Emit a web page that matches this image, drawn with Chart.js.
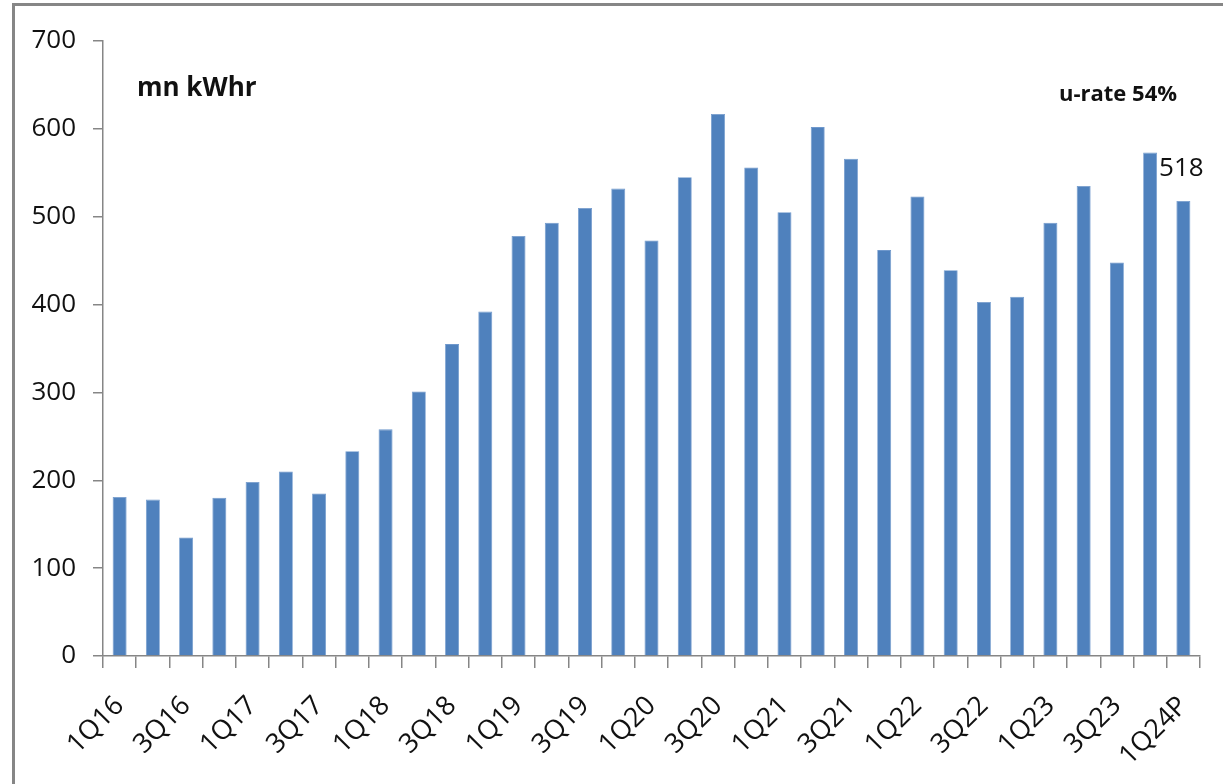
<!DOCTYPE html>
<html>
<head>
<meta charset="utf-8">
<script src="https://cdn.jsdelivr.net/npm/chart.js@4/dist/chart.umd.min.js"></script>
<style>
  html, body { margin: 0; padding: 0; background: #fff; }
  #wrap { width: 1223px; height: 784px; position: relative; }
</style>
</head>
<body>
<div id="wrap"><canvas id="c"></canvas></div>
<script>
const quarters = [
  "1Q16", "2Q16", "3Q16", "4Q16",
  "1Q17", "2Q17", "3Q17", "4Q17",
  "1Q18", "2Q18", "3Q18", "4Q18",
  "1Q19", "2Q19", "3Q19", "4Q19",
  "1Q20", "2Q20", "3Q20", "4Q20",
  "1Q21", "2Q21", "3Q21", "4Q21",
  "1Q22", "2Q22", "3Q22", "4Q22",
  "1Q23", "2Q23", "3Q23", "4Q23",
  "1Q24P"
]
const generation = [
  181, 178, 135, 180,
  198, 210, 185, 233,
  258, 301, 355, 392,
  478, 493, 510, 532,
  473, 545, 617, 556,
  505, 602, 566, 462,
  523, 439, 403, 409,
  493, 535, 448, 573,
  518
]
const yTicks = [0, 100, 200, 300, 400, 500, 600, 700]
const unitLabel = "mn kWhr"
const rateLabel = "u-rate 54%"

const FONT = "'Open Sans', sans-serif"
const AXIS = "#868686"

// frame, notes and the value label on the last bar
const notes = {
  id: "notes",
  afterDraw(chart) {
    const { ctx } = chart
    ctx.save()
    ctx.strokeStyle = AXIS
    ctx.lineWidth = 3
    ctx.beginPath()
    ctx.moveTo(13.5, 784)
    ctx.lineTo(13.5, 4.5)
    ctx.lineTo(1223, 4.5)
    ctx.stroke()

    ctx.fillStyle = "#111"
    ctx.textBaseline = "alphabetic"
    ctx.textAlign = "left"
    ctx.font = "bold 26px " + FONT
    ctx.fillText(unitLabel, 137, 96)
    ctx.font = "bold 22px " + FONT
    ctx.fillText(rateLabel, 1059, 101)

    const last = generation.length - 1
    const bar = chart.getDatasetMeta(0).data[last]
    ctx.font = "26px " + FONT
    ctx.textAlign = "center"
    ctx.textBaseline = "bottom"
    ctx.fillText(String(generation[last]), bar.x - 2, bar.y - 19)
    ctx.restore()
  }
}

new Chart(document.getElementById("c"), {
  type: "bar",
  data: {
    labels: quarters,
    datasets: [{
      data: generation,
      backgroundColor: "#4F81BD",
      borderColor: "#6f98cc",
      borderWidth: 0.8,
      categoryPercentage: 1,
      barPercentage: 0.42
    }]
  },
  options: {
    responsive: true, maintainAspectRatio: false, animation: false,
    layout: { padding: { top: 41, right: 23, bottom: 0, left: 0 } },
    plugins: { legend: { display: false }, tooltip: { enabled: false } },
    scales: {
      x: {
        grid: { display: true, drawOnChartArea: false, tickLength: 12, color: AXIS, lineWidth: 1.5, offset: true },
        border: { display: true, color: AXIS, width: 1.5 },
        ticks: {
          autoSkip: false, minRotation: 45, maxRotation: 45, padding: 22,
          color: "#111", font: { family: FONT, size: 27 },
          callback: (v, i) => i % 2 === 0 ? quarters[i] : ""
        },
        afterFit: s => { s.height = 784 - 656; s.paddingLeft = 0; s.paddingRight = 0 }
      },
      y: {
        min: 0, max: 700,
        afterBuildTicks: s => { s.ticks = yTicks.map(v => ({ value: v })) },
        grid: { display: true, drawOnChartArea: false, tickLength: 10, color: AXIS, lineWidth: 1.5 },
        border: { display: true, color: AXIS, width: 1.5 },
        ticks: { padding: 17, color: "#111", font: { family: FONT, size: 26 } },
        afterFit: s => { s.width = 103 }
      }
    }
  },
  plugins: [notes]
})
</script>
</body>
</html>
